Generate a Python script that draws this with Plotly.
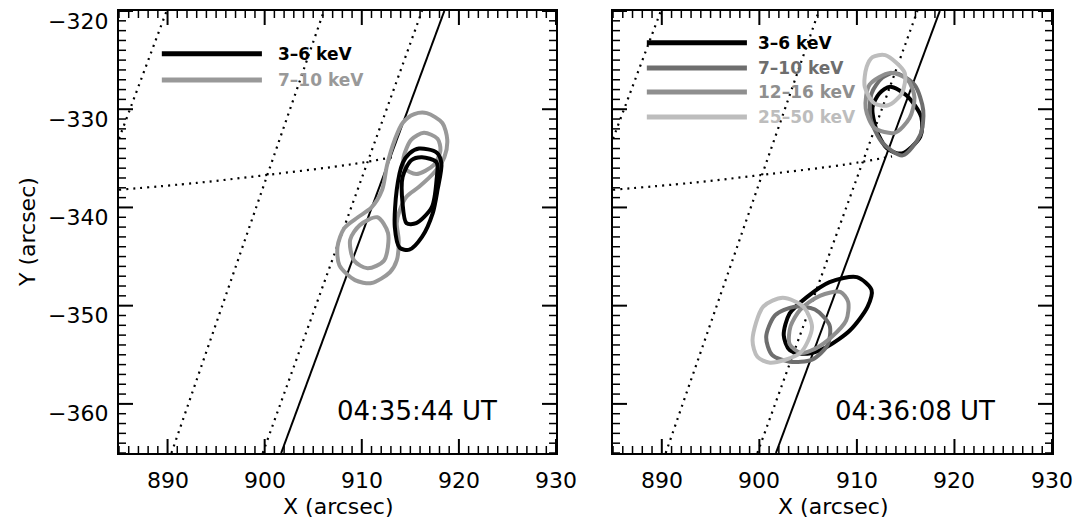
import plotly.graph_objects as go

# ---------------- data ----------------
X_RANGE = [885, 930]
Y_RANGE = [-365, -320]
X_TICKS = [890, 900, 910, 920, 930]
Y_TICKS = [-360, -350, -340, -330, -320]
X_MINOR = list(range(885, 931))
Y_MINOR = list(range(-365, -319))

# solar limb (solid) and heliographic grid (dotted)
limb_x = [901.7, 918.5]
limb_y = [-365, -320]
gridA_x = [885.0, 889.9]
gridA_y = [-333.0, -320]
gridB_x = [890.4, 906.1]
gridB_y = [-365, -320]
gridC_x = [899.8, 916.2]
gridC_y = [-365, -320]
lat_x = [885.0, 893.0, 901.0, 909.0, 913.6]
lat_y = [-338.2, -337.5, -336.6, -335.6, -334.8]

# ---- left panel 04:35:44 ----
L_36_outer_x = [915.9, 917.7, 918.2, 917.8, 917.3, 916.2, 914.9, 913.9, 913.4, 913.6, 914.2, 914.9]
L_36_outer_y = [-334.0, -334.4, -335.5, -338.2, -340.6, -343.0, -344.3, -344.1, -342.0, -338.2, -335.5, -334.5]
L_36_inner_x = [915.1, 916.2, 917.7, 917.7, 917.2, 915.6, 914.6, 914.2, 914.2]
L_36_inner_y = [-335.2, -334.9, -335.4, -337.2, -340.0, -341.6, -341.6, -339.6, -336.9]
L_710_outer_x = [916.7, 918.3, 918.8, 918.5, 917.5, 915.9, 914.6, 913.9, 913.6, 913.8, 913.6, 912.9,
                 911.0, 909.3, 907.7, 907.5, 908.2, 909.6, 911.0, 912.1, 912.6, 913.4, 914.2, 915.4]
L_710_outer_y = [-330.4, -331.4, -333.1, -334.9, -336.4, -337.9, -338.9, -340.3, -341.6, -343.3, -345.4, -346.6,
                 -347.7, -347.4, -345.9, -344.0, -342.1, -341.0, -340.0, -338.2, -335.7, -333.1, -331.4, -330.5]
L_710_top_x = [914.3, 915.1, 916.4, 917.8, 918.1, 917.4, 915.6, 914.4]
L_710_top_y = [-334.9, -333.1, -332.4, -333.0, -334.2, -335.7, -336.6, -336.0]
L_710_bot_x = [908.8, 909.8, 911.6, 912.7, 912.3, 910.6, 909.2]
L_710_bot_y = [-343.3, -341.8, -341.0, -342.6, -345.4, -346.2, -345.4]

# ---- right panel 04:36:08 ----
R_36_top_x = [913.4, 915.1, 916.6, 916.5, 914.6, 913.1, 912.0, 911.6, 912.3]
R_36_top_y = [-327.7, -328.6, -330.8, -332.8, -334.5, -334.0, -332.1, -329.8, -328.4]
R_36_bot_x = [910.0, 911.5, 911.1, 909.3, 906.9, 904.9, 903.1, 902.5, 903.1, 904.9, 907.2]
R_36_bot_y = [-347.1, -348.4, -350.1, -352.5, -354.2, -354.9, -354.5, -353.0, -350.8, -349.1, -347.6]
R_710_top_x = [913.9, 915.9, 916.8, 916.5, 914.7, 912.6, 911.4, 911.5, 912.6]
R_710_top_y = [-326.3, -327.5, -330.1, -332.6, -334.7, -333.4, -330.9, -328.4, -326.8]
R_710_bot_x = [900.7, 901.6, 903.6, 905.7, 907.2, 907.0, 905.4, 903.1, 901.3]
R_710_bot_y = [-353.2, -351.0, -350.1, -350.4, -352.0, -354.0, -355.5, -355.7, -355.0]
R_1216_top_x = [913.4, 915.2, 915.9, 915.4, 913.9, 911.8, 910.9, 911.3]
R_1216_top_y = [-326.3, -327.0, -328.8, -330.9, -332.4, -331.9, -329.9, -327.5]
R_1216_bot_x = [904.2, 906.2, 908.3, 909.1, 908.9, 907.4, 905.7, 904.2, 903.1, 903.2]
R_1216_bot_y = [-350.4, -349.0, -348.6, -349.6, -351.5, -353.2, -354.4, -354.8, -353.9, -352.1]
R_2550_top_x = [912.9, 914.9, 914.6, 913.2, 911.8, 910.8, 911.0, 911.6]
R_2550_top_y = [-324.5, -326.3, -328.4, -329.6, -329.4, -327.7, -325.7, -324.7]
R_2550_bot_x = [899.3, 900.4, 902.4, 904.5, 905.4, 904.2, 901.1, 899.8]
R_2550_bot_y = [-353.5, -350.1, -349.2, -350.1, -352.2, -354.8, -355.8, -355.2]

LEFT_LABELS = ["3–6 keV", "7–10 keV"]
RIGHT_LABELS = ["3–6 keV", "7–10 keV", "12–16 keV", "25–50 keV"]
LEFT_TIME = "04:35:44 UT"
RIGHT_TIME = "04:36:08 UT"
X_TITLE = "X (arcsec)"
Y_TITLE = "Y (arcsec)"

# ---------------- styles ----------------
C_36 = "#000000"
C_710_L = "#999999"
C_710 = "#6e6e6e"
C_1216 = "#8f8f8f"
C_2550 = "#bdbdbd"
FONT = "DejaVu Sans, Verdana, sans-serif"

fig = go.Figure()


def closed(xs, ys):
    return list(xs) + [xs[0]], list(ys) + [ys[0]]


def add_contour(xs, ys, color, xa, ya):
    cx, cy = closed(xs, ys)
    fig.add_trace(go.Scatter(x=cx, y=cy, mode="lines", xaxis=xa, yaxis=ya,
                             line=dict(color=color, width=4, shape="spline", smoothing=0.8),
                             showlegend=False, hoverinfo="skip"))


def add_grid(xa, ya):
    for gx, gy in [(gridA_x, gridA_y), (gridB_x, gridB_y), (gridC_x, gridC_y), (lat_x, lat_y)]:
        fig.add_trace(go.Scatter(x=gx, y=gy, mode="lines", xaxis=xa, yaxis=ya,
                                 line=dict(color="black", width=2.2, dash="2px,5px", shape="spline"),
                                 showlegend=False, hoverinfo="skip"))
    fig.add_trace(go.Scatter(x=limb_x, y=limb_y, mode="lines", xaxis=xa, yaxis=ya,
                             line=dict(color="black", width=2), showlegend=False, hoverinfo="skip"))


# left panel
add_grid("x", "y")
add_contour(L_710_outer_x, L_710_outer_y, C_710_L, "x", "y")
add_contour(L_710_top_x, L_710_top_y, C_710_L, "x", "y")
add_contour(L_710_bot_x, L_710_bot_y, C_710_L, "x", "y")
add_contour(L_36_outer_x, L_36_outer_y, C_36, "x", "y")
add_contour(L_36_inner_x, L_36_inner_y, C_36, "x", "y")

# right panel
add_grid("x2", "y2")
add_contour(R_36_top_x, R_36_top_y, C_36, "x2", "y2")
add_contour(R_36_bot_x, R_36_bot_y, C_36, "x2", "y2")
add_contour(R_710_top_x, R_710_top_y, C_710, "x2", "y2")
add_contour(R_710_bot_x, R_710_bot_y, C_710, "x2", "y2")
add_contour(R_1216_top_x, R_1216_top_y, C_1216, "x2", "y2")
add_contour(R_1216_bot_x, R_1216_bot_y, C_1216, "x2", "y2")
add_contour(R_2550_top_x, R_2550_top_y, C_2550, "x2", "y2")
add_contour(R_2550_bot_x, R_2550_bot_y, C_2550, "x2", "y2")

shapes = []
annotations = []

# ---- tick marks (inside, on all four sides) and tick labels ----
MAJ_LEN, MIN_LEN = 14, 7
tick_font = dict(family=FONT, size=22, color="black")


def fmt(v):
    return str(v).replace("-", "\u2212")


def ticks_for(xa, ya, ylabels):
    xd, yd = xa + " domain", ya + " domain"
    for v in X_MINOR:
        major = v in X_TICKS
        ln = MAJ_LEN if major else MIN_LEN
        w = 2 if major else 1.5
        shapes.append(dict(type="line", xref=xa, yref=yd, ysizemode="pixel", yanchor=0,
                           x0=v, x1=v, y0=0, y1=ln, line=dict(color="black", width=w)))
        shapes.append(dict(type="line", xref=xa, yref=yd, ysizemode="pixel", yanchor=1,
                           x0=v, x1=v, y0=0, y1=-ln, line=dict(color="black", width=w)))
    for v in Y_MINOR:
        major = v in Y_TICKS
        ln = MAJ_LEN if major else MIN_LEN
        w = 2 if major else 1.5
        shapes.append(dict(type="line", xref=xd, yref=ya, xsizemode="pixel", xanchor=0,
                           y0=v, y1=v, x0=0, x1=ln, line=dict(color="black", width=w)))
        shapes.append(dict(type="line", xref=xd, yref=ya, xsizemode="pixel", xanchor=1,
                           y0=v, y1=v, x0=0, x1=-ln, line=dict(color="black", width=w)))
    for v in X_TICKS:
        annotations.append(dict(xref=xa, yref=yd, x=v, y=0, yshift=-27, text=fmt(v),
                                showarrow=False, xanchor="center", yanchor="middle", font=tick_font))
    if ylabels:
        for v in Y_TICKS:
            annotations.append(dict(xref=xd, yref=ya, x=0, xshift=-9, y=v, yshift=-10, text=fmt(v),
                                    showarrow=False, xanchor="right", yanchor="middle",
                                    font=tick_font))


ticks_for("x", "y", True)
ticks_for("x2", "y2", False)


# legends (drawn as shapes + text)
def legend(labels, colors, xr, yr, x0, x1, xt, ys):
    for lab, col, yy in zip(labels, colors, ys):
        shapes.append(dict(type="line", xref=xr, yref=yr, x0=x0, x1=x1, y0=yy, y1=yy,
                           line=dict(color=col, width=5)))
        annotations.append(dict(xref=xr, yref=yr, x=xt, y=yy, text="<b>" + lab + "</b>",
                                showarrow=False, xanchor="left", yanchor="middle",
                                font=dict(family=FONT, size=17, color=col)))


legend(LEFT_LABELS, [C_36, C_710_L], "x domain", "y domain", 0.098, 0.327, 0.36, [0.903, 0.844])
legend(RIGHT_LABELS, [C_36, C_710, C_1216, C_2550], "x2 domain", "y2 domain",
       0.077, 0.305, 0.325, [0.928, 0.871, 0.817, 0.760])

annotations.append(dict(xref="x domain", yref="y domain", x=0.682, y=0.095, text=LEFT_TIME,
                        showarrow=False, xanchor="center", yanchor="middle",
                        font=dict(family=FONT, size=26, color="black")))
annotations.append(dict(xref="x2 domain", yref="y2 domain", x=0.688, y=0.095, text=RIGHT_TIME,
                        showarrow=False, xanchor="center", yanchor="middle",
                        font=dict(family=FONT, size=26, color="black")))
# axis titles
title_font = dict(family=FONT, size=22, color="black")
annotations.append(dict(xref="x domain", yref="paper", x=0.5, y=0, yshift=-53, text=X_TITLE,
                        showarrow=False, xanchor="center", yanchor="middle", font=title_font))
annotations.append(dict(xref="x2 domain", yref="paper", x=0.5, y=0, yshift=-53, text=X_TITLE,
                        showarrow=False, xanchor="center", yanchor="middle", font=title_font))
annotations.append(dict(xref="paper", yref="paper", x=0, xshift=-92, y=0.5, text=Y_TITLE,
                        textangle=-90, showarrow=False, xanchor="center", yanchor="middle",
                        font=title_font))

frame = dict(showgrid=False, zeroline=False, showline=True, linecolor="black", linewidth=2,
             mirror=True, ticks="", showticklabels=False, automargin=False, fixedrange=True)

fig.update_layout(
    width=1075, height=519,
    margin=dict(l=119, r=23, t=11, b=66),
    paper_bgcolor="white", plot_bgcolor="white",
    showlegend=False,
    xaxis=dict(domain=[0, 0.4684], range=X_RANGE, anchor="y", **frame),
    yaxis=dict(domain=[0, 1], range=Y_RANGE, anchor="x", **frame),
    xaxis2=dict(domain=[0.5295, 1], range=X_RANGE, anchor="y2", **frame),
    yaxis2=dict(domain=[0, 1], range=Y_RANGE, anchor="x2", **frame),
    shapes=shapes,
    annotations=annotations,
)

# remove the browser's default page margin so the 1075x519 figure fills the window exactly
fig.write_html("out.html",
               config={"displayModeBar": False},
               post_script="document.body.style.margin='0';document.body.style.overflow='hidden';")
